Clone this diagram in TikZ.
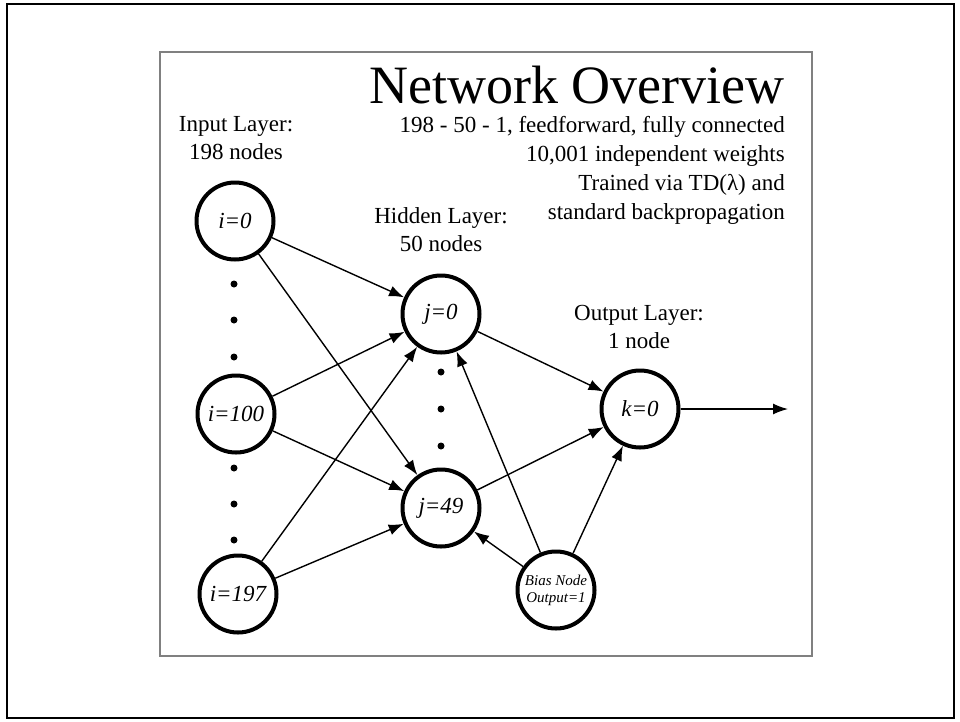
\documentclass[tikz,border=0pt]{standalone}
\usepackage{fontspec}
\setmainfont{Liberation Serif}
\usetikzlibrary{arrows.meta}
\tikzset{
    neuron/.style={circle, draw, line width=4pt, minimum size=77pt, inner sep=0pt,
    	font=\fontsize{23}{26}\selectfont\itshape}
}
\tikzset{
    every edge/.append style={line width=1.4pt, -{Latex[length=15pt,width=11pt]}}
}
\tikzset{
	dot/.style={circle, fill, minimum size=7pt, inner sep=0pt},
	caption/.style={align=center, inner sep=0pt, font=\fontsize{23}{28}\selectfont}
}

\begin{document}
\begin{tikzpicture}[x=1pt, y=-1pt]
  \useasboundingbox (0,0) rectangle (960,721);
  \draw [line width=2pt] (7,4) rectangle (954,718);
  \draw [line width=2.5pt, gray] (160,52) rectangle (812,656);

  \node (title) [anchor=base east, inner sep=0pt, font=\fontsize{54}{60}\selectfont] at (785,103) {Network Overview};
  \node (about) [caption, anchor=north east, align=right, font=\fontsize{23}{29}\selectfont] at (785,116)
    {198 - 50 - 1, feedforward, fully connected\\10,001 independent weights\\Trained via TD(λ) and\\standard backpropagation};
  \node (inlbl) [caption, anchor=north] at (236,116) {Input Layer:\\198 nodes};
  \node (hidlbl) [caption, anchor=north] at (441,207) {Hidden Layer:\\50 nodes};
  \node (outlbl) [caption, anchor=north] at (639,305) {Output Layer:\\1 node};

  \node (i0) [neuron] at (235,221) {i=0};
  \node (i100) [neuron] at (236,414) {i=100};
  \node (i197) [neuron] at (238,594) {i=197};
  \node (j0) [neuron] at (441,314) {j=0};
  \node (j49) [neuron] at (441,508) {j=49};
  \node (k0) [neuron] at (640,409) {k=0};
  \node (bias) [neuron, align=center, font=\fontsize{15}{17}\selectfont\itshape] at (556,590) {Bias Node\\Output=1};
  \coordinate (out) at (788,409);

  \foreach \y in {284,320,357,468,504,540}
    \node (a\y) [dot] at (234,\y) {};
  \foreach \y in {372,409,446}
    \node (b\y) [dot] at (441,\y) {};

  \draw (i0) edge (j0); \draw (i0) edge (j49); \draw (i100) edge (j0);
  \draw (i100) edge (j49); \draw (i197) edge (j0); \draw (i197) edge (j49);
  \draw (j0) edge (k0); \draw (j49) edge (k0); \draw (bias) edge (j0);
  \draw (bias) edge (j49); \draw (bias) edge (k0); \draw (k0) edge (out);
\end{tikzpicture}
\end{document}
